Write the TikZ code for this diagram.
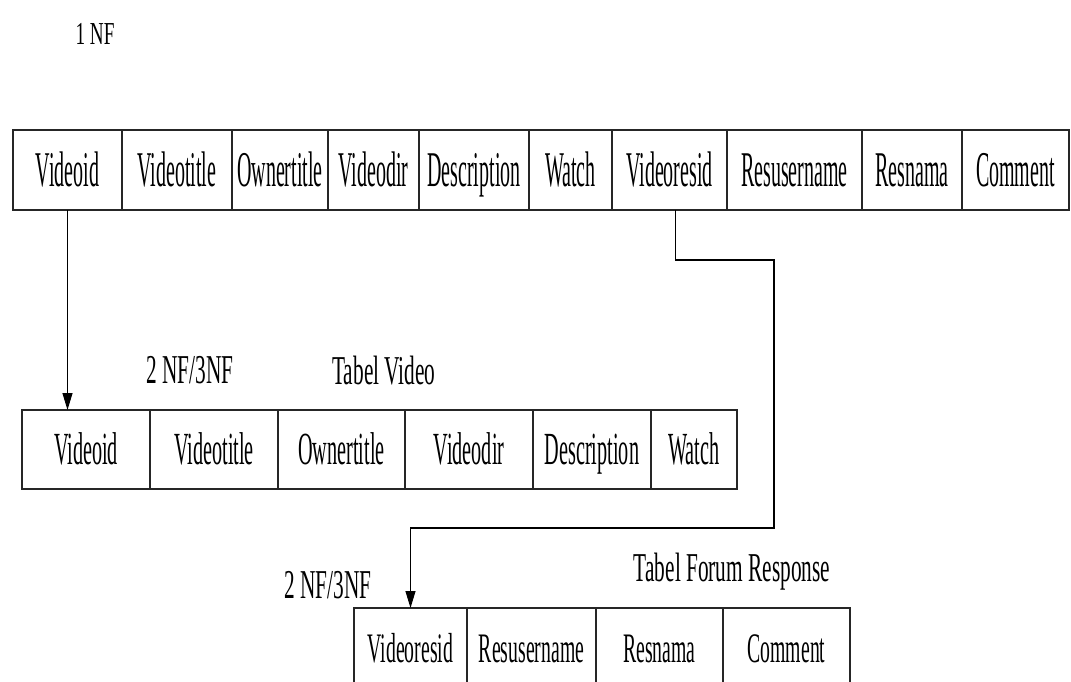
\documentclass[tikz,border=0pt]{standalone}
\usepackage{fontspec}
\usepackage{tikz}
\usetikzlibrary{arrows.meta, positioning}

\newfontfamily\fontTop{Liberation Serif}[FakeStretch=0.40]
\newfontfamily\fontMid{Liberation Serif}[FakeStretch=0.44]
\newfontfamily\fontLow{Liberation Serif}[FakeStretch=0.47]
\newfontfamily\fontLabel{Liberation Serif}[FakeStretch=0.52]
\newfontfamily\fontNF{Liberation Serif}[FakeStretch=0.60]

\begin{document}
\begin{tikzpicture}[
        x=0.5pt, y=-0.5pt,
        cell/.style={rectangle, draw=black!85, line width=0.6pt, inner sep=0pt, outer sep=0pt, align=center, text depth=0pt},
        top/.style={cell, minimum height=40pt, text height=16.5pt, font=\fontTop\fontsize{25}{28}\selectfont},
        mid/.style={cell, minimum height=39.5pt, text height=15.2pt, font=\fontMid\fontsize{23}{26}\selectfont},
        low/.style={cell, minimum height=41pt, text height=13.9pt, font=\fontLow\fontsize{21}{24}\selectfont},
        label/.style={inner sep=0pt, text depth=0pt, font=\fontLabel\fontsize{20.5}{24}\selectfont},
        arr/.style={-{Triangle[length=8.5pt, width=5pt]}, line width=0.55pt},
    ]
        \useasboundingbox (0,0) rectangle (1071,681);
        \clip (0,0) rectangle (1071,681);

        % 1 NF
        \node[inner sep=0pt, text depth=0pt, font=\fontNF\fontsize{16}{19}\selectfont] (nf) at (95,34) {1 NF};

        % Row 1
        \node[top, minimum width=54.5pt, anchor=north west] (t1) at (13,130) {Videoid};
        \node[top, minimum width=55pt, right=0pt of t1] (t2) {Videotitle};
        \node[top, minimum width=48pt, right=0pt of t2] (t3) {Ownertitle};
        \node[top, minimum width=45.5pt, right=0pt of t3] (t4) {Videodir};
        \node[top, minimum width=55pt, right=0pt of t4] (t5) {Description};
        \node[top, minimum width=41.5pt, right=0pt of t5] (t6) {Watch};
        \node[top, minimum width=57.5pt, right=0pt of t6] (t7) {Videoresid};
        \node[top, minimum width=67.5pt, right=0pt of t7] (t8) {Resusername};
        \node[top, minimum width=50pt, right=0pt of t8] (t9) {Resnama};
        \node[top, minimum width=53.5pt, right=0pt of t9] (t10) {Comment};

        % Row 2
        \node[label] (nfvid) at (190,370) {2 NF/3NF};
        \node[label] (tabvid) at (384,370) {Tabel Video};
        \node[mid, minimum width=64pt, anchor=north west] (m1) at (22,410) {Videoid};
        \node[mid, minimum width=64pt, right=0pt of m1] (m2) {Videotitle};
        \node[mid, minimum width=63.5pt, right=0pt of m2] (m3) {Ownertitle};
        \node[mid, minimum width=64pt, right=0pt of m3] (m4) {Videodir};
        \node[mid, minimum width=59pt, right=0pt of m4] (m5) {Description};
        \node[mid, minimum width=43pt, right=0pt of m5] (m6) {Watch};

        % Row 3
        \node[label] (nfres) at (328,585) {2 NF/3NF};
        \node[label] (tabres) at (732,567) {Tabel Forum Response};
        \node[low, minimum width=56.5pt, anchor=north west] (b1) at (354,608) {Videoresid};
        \node[low, minimum width=64.5pt, right=0pt of b1] (b2) {Resusername};
        \node[low, minimum width=63.5pt, right=0pt of b2] (b3) {Resnama};
        \node[low, minimum width=63.5pt, right=0pt of b3] (b4) {Comment};

        % Arrows
        \coordinate (bendA) at (774,260);
        \coordinate (bendB) at (774,528);
        \draw[arr] (t1.south) -- (t1.south |- m1.north);
        \draw[arr] ([xshift=3pt]t7.south) |- (bendA) -- (bendB) -| (b1.north);
    \end{tikzpicture}
\end{document}
